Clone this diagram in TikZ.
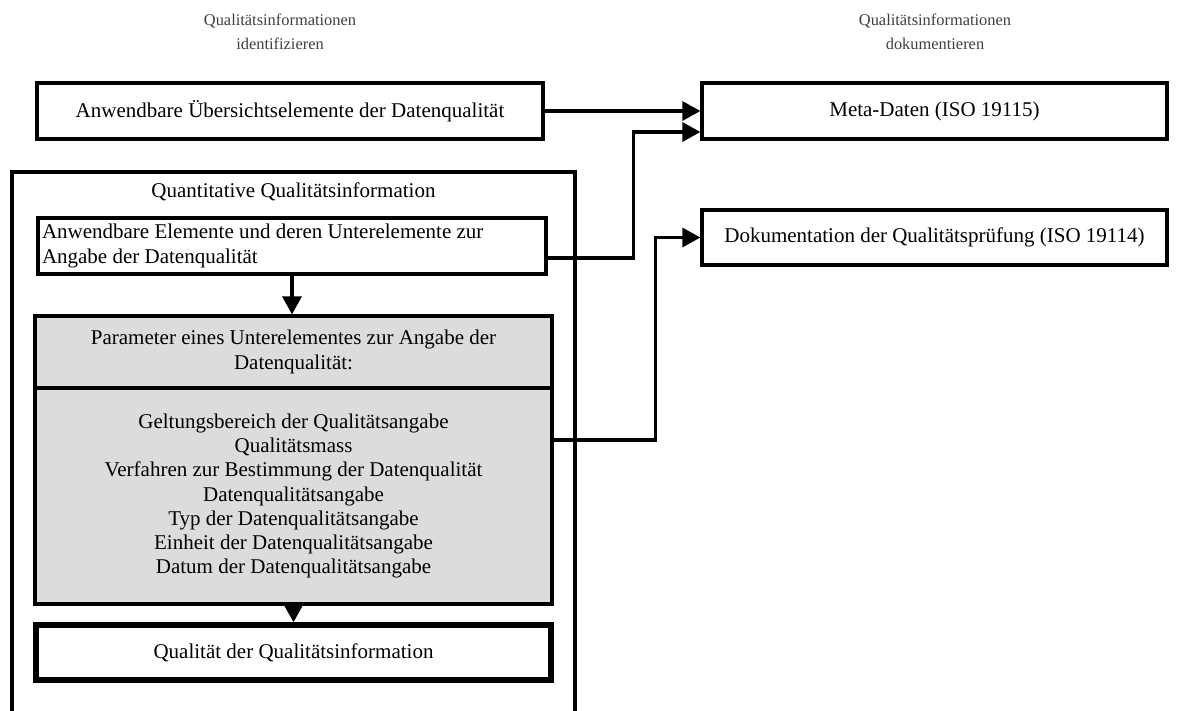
\documentclass[tikz,border=0pt]{standalone}
\usepackage{fontspec}
\setmainfont{Liberation Serif}
\usetikzlibrary{arrows.meta}
\definecolor{headgray}{HTML}{404040}
\definecolor{panelgray}{HTML}{DCDCDC}
\begin{document}
\begin{tikzpicture}[x=1pt,y=-1pt,
  font=\fontsize{21}{24.3}\selectfont,
  box/.style={draw=black,line width=3.2pt,fill=white,inner sep=0pt,align=center},
  heading/.style={text=headgray,align=center,font=\fontsize{16.4}{24}\selectfont},
  arr/.style={line width=3.2pt,-{Triangle[length=18pt,width=19pt]}},
  line join=miter]
\useasboundingbox[fill=white] (0,0) rectangle (1200,710);

% column headings
\node[heading] (h1) at (280,32) {Qualitätsinformationen\\identifizieren};
\node[heading] (h2) at (935,32) {Qualitätsinformationen\\dokumentieren};

% upper row
\node[box,minimum width=506,minimum height=56] (ueber) at (290,111) {Anwendbare Übersichtselemente der Datenqualität};
\node[box,minimum width=465,minimum height=56] (meta) at (934.5,111) {Meta-Daten (ISO 19115)};
\node[box,minimum width=465,minimum height=55] (doku) at (934.5,237.5) {Dokumentation der Qualitätsprüfung (ISO 19114)};

% container for the quantitative information
\node[box,minimum width=563,minimum height=545] (quant) at (293.5,444.5) {};
\node (qtitle) at (293.5,192) {Quantitative Qualitätsinformation};

\node[box,minimum width=508,minimum height=56,text width=500,align=flush left] (elem) at (292,246)
  {Anwendbare Elemente und deren Unterelemente zur\\Angabe der Datenqualität};

\node[box,fill=panelgray,minimum width=517,minimum height=72] (param) at (293.5,352)
  {Parameter eines Unterelementes zur Angabe der\\Datenqualität:};
\node[box,fill=panelgray,minimum width=517,minimum height=216] (pbody) at (293.5,496)
  {Geltungsbereich der Qualitätsangabe\\
   Qualitätsmass\\
   Verfahren zur Bestimmung der Datenqualität\\
   Datenqualitätsangabe\\
   Typ der Datenqualitätsangabe\\
   Einheit der Datenqualitätsangabe\\
   Datum der Datenqualitätsangabe};

\node[box,line width=5.5pt,minimum width=515,minimum height=55] (qq) at (293.5,652.5) {Qualität der Qualitätsinformation};

% connectors
\draw[arr] (ueber.east) -- (meta.west);
\draw[arr] ([yshift=-12pt]elem.east) -- ++(86,0) |- ([yshift=-21pt]meta.west);
\draw[arr] ([yshift=56pt]pbody.east) -- ++(102,0) |- (doku.west);
\draw[arr] (elem.south) -- (elem.south |- param.north);
\draw[arr] (pbody.south) -- (qq.north);
\end{tikzpicture}
\end{document}
